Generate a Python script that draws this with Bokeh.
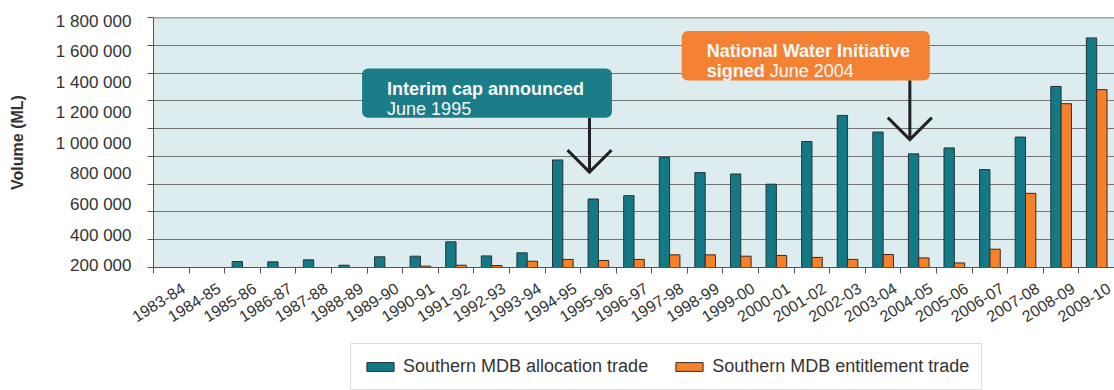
import math
from bokeh.plotting import figure
from bokeh.layouts import column
from bokeh.models import (Range1d, FixedTicker, ColumnDataSource, Legend, LegendItem,
                          BoxAnnotation, Span)
from bokeh.transform import dodge
from bokeh.core.properties import value
from bokeh.embed import file_html
from bokeh.resources import INLINE

# ---------------- data ----------------
years = ["1983-84", "1984-85", "1985-86", "1986-87", "1987-88", "1988-89", "1989-90",
         "1990-91", "1991-92", "1992-93", "1993-94", "1994-95", "1995-96", "1996-97",
         "1997-98", "1998-99", "1999-00", "2000-01", "2001-02", "2002-03", "2003-04",
         "2004-05", "2005-06", "2006-07", "2007-08", "2008-09", "2009-10"]

allocation_trade = [0, 0, 226000, 224000, 237000, 202000, 257000,
                    261000, 355000, 263000, 283000, 892000, 636000, 658000,
                    910000, 809000, 800000, 733000, 1013000, 1184000, 1075000,
                    932000, 971000, 829000, 1042000, 1374000, 1692000]

entitlement_trade = [0, 0, 0, 0, 0, 0, 0,
                     196000, 202000, 200000, 228000, 240000, 233000, 240000,
                     270000, 270000, 261000, 266000, 253000, 240000, 272000,
                     250000, 217000, 307000, 673000, 1261000, 1353000]

y_tick_values = [200000, 400000, 600000, 800000, 1000000, 1200000, 1400000, 1600000, 1800000]
y_tick_labels = ["200 000", "400 000", "600 000", "800 000", "1 000 000",
                 "1 200 000", "1 400 000", "1 600 000", "1 800 000"]

series_names = ["Southern MDB allocation trade", "Southern MDB entitlement trade"]

# annotations (event boxes with arrows)
ann_title = ["Interim cap announced", "National Water Initiative"]
ann_line2_bold = ["", "signed"]
ann_line2_text = ["June 1995", "June 2004"]
ann_arrow_x = [12.25, 21.25]
ann_arrow_tip = [812000, 1025000]
ann_box_left = [5.86, 14.84]
ann_box_right = [12.88, 21.81]
ann_box_top = [1492000, 1738000]
ann_box_bottom = [1168000, 1413000]

# ---------------- style ----------------
TEAL = "#137985"
ORANGE = "#f5812b"
TEAL_BOX = "#1a7d88"
ORANGE_BOX = "#f58233"
BG = "#ddecee"
FONT = "Liberation Sans"
TXT = "#333333"
TEAL_LINE = "#23343a"
ORANGE_LINE = "#3a2a20"

Y_START, Y_END = 187000, 1826000
W, H_MAIN, H_LEG = 1114, 340, 50
LEFT, TOP, BOTTOM = 153, 17, 73
FRAME_W = W - LEFT
FRAME_H = H_MAIN - TOP - BOTTOM
n = len(years)
px_x = n / FRAME_W
px_y = (Y_END - Y_START) / FRAME_H
LABEL_SHIFT = 0.34  # where the rotated year label is anchored within its category

xc = [i + 0.5 for i in range(n)]
xl = [i + 0.5 + LABEL_SHIFT for i in range(n)]
src = ColumnDataSource(dict(x=xc, year=years, alloc=allocation_trade, ent=entitlement_trade))

p = figure(width=W, height=H_MAIN, x_range=Range1d(0, n), y_range=Range1d(Y_START, Y_END),
           output_backend="svg", toolbar_location=None,
           min_border_left=LEFT, min_border_right=0, min_border_top=TOP, min_border_bottom=BOTTOM,
           background_fill_color=BG, border_fill_color="white", outline_line_color=None)

# grid
p.xgrid.visible = False
grid_vals = [Y_START + k * (Y_END - Y_START) / 9 for k in range(10)]
p.ygrid.ticker = FixedTicker(ticks=grid_vals)
p.ygrid.grid_line_color = "#747474"
p.ygrid.grid_line_width = 1
p.add_layout(Span(location=Y_END, dimension="width", line_color="#555555", line_width=1.5))

# y axis
p.yaxis.ticker = FixedTicker(ticks=y_tick_values, minor_ticks=grid_vals)
p.yaxis.major_label_overrides = {v: l for v, l in zip(y_tick_values, y_tick_labels)}
p.yaxis.major_tick_out = 0
p.yaxis.major_tick_in = 0
p.yaxis.minor_tick_out = 6
p.yaxis.minor_tick_in = 0
p.yaxis.minor_tick_line_color = "#555555"
p.yaxis.axis_line_color = "#555555"
p.yaxis.major_label_standoff = 16
p.yaxis.major_label_text_font = FONT
p.yaxis.major_label_text_font_size = "17px"
p.yaxis.major_label_text_color = TXT
p.yaxis.axis_label = "Volume (ML)"
p.yaxis.axis_label_text_font = FONT
p.yaxis.axis_label_text_font_size = "16px"
p.yaxis.axis_label_text_font_style = "bold"
p.yaxis.axis_label_text_color = TXT
p.yaxis.axis_label_standoff = 27

# x axis
p.xaxis.ticker = FixedTicker(ticks=xl, minor_ticks=list(range(n + 1)))
p.xaxis.major_label_overrides = {x: y for x, y in zip(xl, years)}
p.xaxis.major_label_orientation = math.radians(32)
p.xaxis.major_tick_out = 0
p.xaxis.major_tick_in = 0
p.xaxis.minor_tick_out = 6
p.xaxis.minor_tick_in = 0
p.xaxis.minor_tick_line_color = "#555555"
p.xaxis.axis_line_color = "#555555"
p.xaxis.major_label_standoff = 13
p.xaxis.major_label_text_font = FONT
p.xaxis.major_label_text_font_size = "16px"
p.xaxis.major_label_text_color = TXT

# bars
r1 = p.vbar(x=dodge("x", -0.145, range=p.x_range), top="alloc", width=0.29, source=src,
            fill_color=TEAL, line_color=TEAL_LINE, line_width=1)
r2 = p.vbar(x=dodge("x", 0.145, range=p.x_range), top="ent", width=0.29, source=src,
            fill_color=ORANGE, line_color=ORANGE_LINE, line_width=1)

# annotations
box_colors = [TEAL_BOX, ORANGE_BOX]
for i in range(len(ann_title)):
    p.add_layout(BoxAnnotation(left=ann_box_left[i], right=ann_box_right[i],
                               top=ann_box_top[i], bottom=ann_box_bottom[i],
                               fill_color=box_colors[i], fill_alpha=1.0,
                               line_color=None, border_radius=6, level="annotation"))

ann_src = ColumnDataSource(dict(
    x=[l + 25 * px_x for l in ann_box_left],
    y1=[t - 20.5 * px_y for t in ann_box_top],
    y2=[t - 40.5 * px_y for t in ann_box_top],
    t1=ann_title, t2b=ann_line2_bold, t2=ann_line2_text,
    off=[0 if b == "" else 63 for b in ann_line2_bold],
))
p.text(x="x", y="y1", text="t1", source=ann_src, text_font=value(FONT), text_font_size="18px",
       text_font_style="bold", text_color="#f8f8f8", text_baseline="alphabetic", level="overlay")
p.text(x="x", y="y2", text="t2b", source=ann_src, text_font=value(FONT), text_font_size="18px",
       text_font_style="bold", text_color="#f8f8f8", text_baseline="alphabetic", level="overlay")
p.text(x="x", y="y2", text="t2", source=ann_src, x_offset="off", text_font=value(FONT),
       text_font_size="18px", text_color="#f8f8f8", text_baseline="alphabetic", level="overlay")

# arrows
arm_dx = 22 * px_x
arm_dy = 22 * px_y
p.segment(x0=ann_arrow_x, y0=ann_box_bottom, x1=ann_arrow_x, y1=ann_arrow_tip,
          line_color="#222222", line_width=3, level="overlay")
p.multi_line(xs=[[x - arm_dx, x, x + arm_dx] for x in ann_arrow_x],
             ys=[[t + arm_dy, t, t + arm_dy] for t in ann_arrow_tip],
             line_color="#222222", line_width=3, line_join="miter", level="overlay")

# legend strip below the chart (swatch renderers kept outside the strip's visible range)
lf = figure(width=W, height=H_LEG, x_range=Range1d(0, 1), y_range=Range1d(0, 1),
            output_backend="svg", toolbar_location=None,
            min_border_left=0, min_border_right=0, min_border_top=0, min_border_bottom=0,
            background_fill_color="white", border_fill_color="white", outline_line_color=None)
lf.axis.visible = False
lf.grid.visible = False
swatch = ColumnDataSource(dict(x=[5], top=[5]))
g1 = lf.vbar(x="x", top="top", width=0.1, source=swatch, fill_color=TEAL, line_color=TEAL_LINE)
g2 = lf.vbar(x="x", top="top", width=0.1, source=swatch, fill_color=ORANGE, line_color=ORANGE_LINE)
legend = Legend(items=[LegendItem(label=series_names[0], renderers=[g1]),
                       LegendItem(label=series_names[1], renderers=[g2])],
                location=(197, 0), orientation="horizontal",
                glyph_width=34, glyph_height=11, label_standoff=6, spacing=24,
                padding=12, margin=0,
                label_text_font=FONT, label_text_font_size="18px", label_text_color=TXT,
                border_line_color="#bdbdbd", border_line_width=1,
                background_fill_color="white", background_fill_alpha=1.0)
lf.add_layout(legend)

open("out.html", "w").write(file_html(column(p, lf, spacing=0), INLINE))
